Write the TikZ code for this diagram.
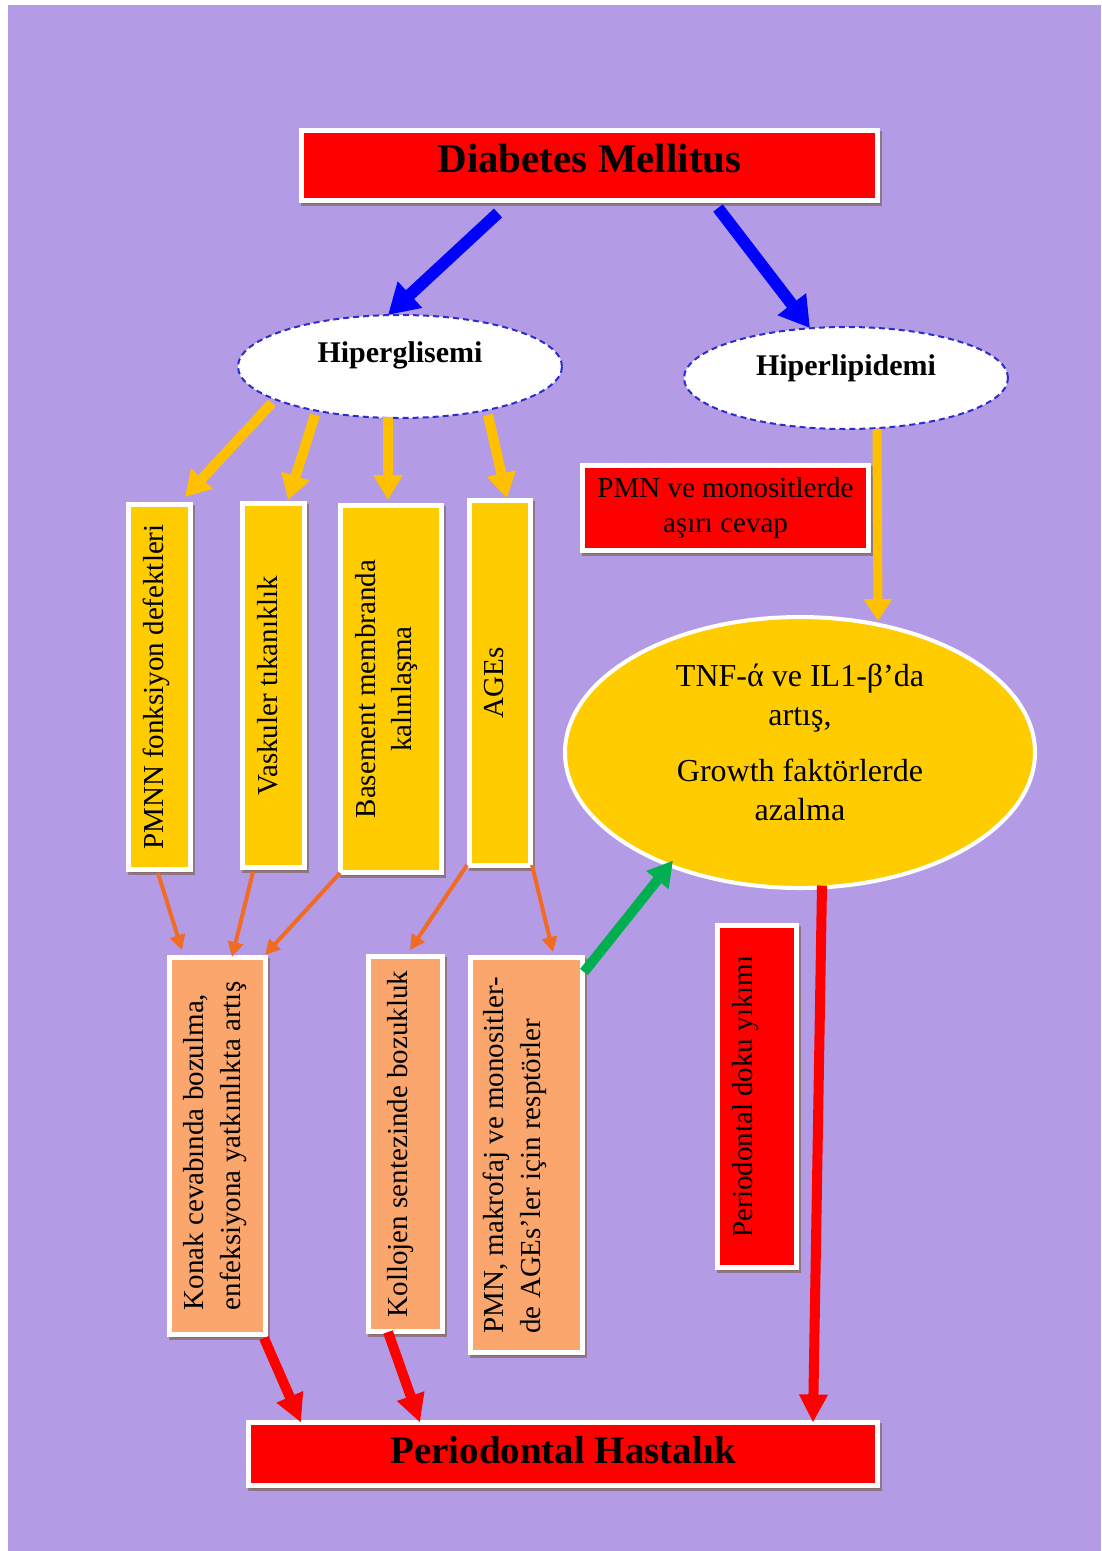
\documentclass[tikz,border=0pt]{standalone}
\usepackage{fontspec}
\setmainfont{Liberation Serif}
\usetikzlibrary{arrows.meta,shapes.geometric,shadows}
\definecolor{bgc}{RGB}{180,155,230}
\definecolor{redc}{RGB}{255,0,0}
\definecolor{yelc}{RGB}{255,204,0}
\definecolor{yarr}{RGB}{255,192,0}
\definecolor{orc}{RGB}{250,166,108}
\definecolor{oarr}{RGB}{242,107,34}
\definecolor{dashc}{RGB}{45,45,205}
\definecolor{greenc}{RGB}{0,176,80}
\definecolor{shadc}{RGB}{130,105,95}
\newcommand\mhtext[2]{\raisebox{#1}[0pt][0pt]{#2}}
\newcommand\mvtext[2]{\rotatebox{90}{\raisebox{#1}[0pt][0pt]{#2}}}
\begin{document}
\begin{tikzpicture}[x=1pt,y=-1pt,
  box/.style={rectangle,draw=white,line width=5pt,inner sep=0pt,outer sep=0pt,
    drop shadow={shadow xshift=2pt,shadow yshift=-3pt,opacity=.7,fill=shadc,draw=shadc,line width=5pt},
    font=\fontsize{29}{37}\selectfont},
  redbox/.style={box,fill=redc},
  ybox/.style={box,fill=yelc},
  obox/.style={box,fill=orc},
  dashell/.style={ellipse,draw=dashc,line width=2pt,dash pattern=on 6pt off 4pt,fill=white,
    inner sep=0pt,outer sep=0pt,font=\bfseries\fontsize{30}{36}\selectfont},
  bigell/.style={ellipse,draw=white,line width=4pt,fill=yelc,inner sep=0pt,outer sep=0pt,
    font=\fontsize{32}{39}\selectfont},
  bluearr/.style={draw=blue,line width=12pt,-{Triangle[width=34pt,length=30pt]}},
  yelarr/.style={draw=yarr,line width=10pt,-{Triangle[width=28pt,length=25pt]}},
  yelthin/.style={draw=yarr,line width=9pt,-{Triangle[width=27pt,length=22pt]}},
  orarr/.style={draw=oarr,line width=4pt,-{Triangle[width=15pt,length=15pt]}},
  redarr/.style={draw=redc,line width=10pt,-{Triangle[width=27pt,length=28pt]}},
  grarr/.style={draw=greenc,line width=10pt,-{Triangle[width=27pt,length=25pt]}}
]
\useasboundingbox (0,0) rectangle (1101,1551);
\fill[bgc] (8,5) rectangle (1101,1551);

% top and bottom
\node[redbox,minimum width=576pt,minimum height=70pt,font=\bfseries\fontsize{41}{48}\selectfont]
  (dm) at (589.5,165.5) {\mhtext{-6.5pt}{Diabetes Mellitus}};
\node[redbox,minimum width=629pt,minimum height=63pt,font=\bfseries\fontsize{39}{46}\selectfont]
  (ph) at (563,1454) {\mhtext{-9pt}{Periodontal Hastalık}};

% ellipses
\node[dashell,minimum width=324pt,minimum height=103pt] (hg) at (400,366.5) {\mhtext{4.5pt}{Hiperglisemi}};
\node[dashell,minimum width=324pt,minimum height=102pt] (hl) at (846,378) {\mhtext{3pt}{Hiperlipidemi}};

% yellow boxes
\node[ybox,minimum width=62pt,minimum height=365pt] (pmnn) at (159.5,687) {\mvtext{-3.5pt}{PMNN fonksiyon defektleri}};
\node[ybox,minimum width=62pt,minimum height=364pt] (vask) at (273.5,685.5) {\mvtext{-3.5pt}{Vaskuler tıkanıklık}};
\node[ybox,minimum width=101pt,minimum height=367pt,font=\fontsize{29}{36}\selectfont] (bm) at (391,689)
  {\mvtext{16pt}{\begin{tabular}[t]{@{}c@{}}Basement membranda\\kalınlaşma\end{tabular}}};
\node[ybox,minimum width=61pt,minimum height=365pt] (ages) at (500,683) {\mvtext{-3pt}{AGEs}};

% orange boxes
\node[obox,minimum width=96pt,minimum height=377pt] (konak) at (217.5,1146)
  {\mvtext{14.5pt}{\begin{tabular}[t]{@{}l@{}}Konak cevabında bozulma,\\enfeksiyona yatkınlıkta artış\end{tabular}}};
\node[obox,minimum width=74pt,minimum height=375pt] (koll) at (405.5,1144)
  {\mvtext{-1.5pt}{Kollojen sentezinde bozukluk}};
\node[obox,minimum width=112pt,minimum height=395pt] (pmnmak) at (526.5,1155)
  {\mvtext{23.5pt}{\begin{tabular}[t]{@{}l@{}}PMN, makrofaj ve monositler-\\de AGEs’ler için resptörler\end{tabular}}};

% right side
\node[redbox,minimum width=286pt,minimum height=85pt,font=\fontsize{29}{35}\selectfont] (pmnmono) at (725.5,508)
  {\mhtext{11pt}{\begin{tabular}[t]{@{}c@{}}PMN ve monositlerde\\aşırı cevap\end{tabular}}};
\node[bigell,minimum width=470pt,minimum height=271pt] (tnf) at (800,752.5)
  {\mhtext{66pt}{\begin{tabular}[t]{@{}c@{}}TNF-ά ve IL1-β’da\\artış,\\[17pt]Growth faktörlerde\\azalma\end{tabular}}};
\node[redbox,minimum width=79pt,minimum height=342pt] (pdy) at (757,1096.5)
  {\mvtext{5pt}{Periodontal doku yıkımı}};

% blue arrows
\draw[bluearr] ([shift={(-91.5,12.5)}]dm.south) -- ([xshift=-12pt]hg.north);
\draw[bluearr] ([shift={(128.5,7.5)}]dm.south) -- ([xshift=-36pt,yshift=-1pt]hl.north);

% yellow arrows
\draw[yelarr] ([shift={(-128,36.5)}]hg.center) -- ([shift={(25.5,-7.5)}]pmnn.north);
\draw[yelarr] ([shift={(-85,48.5)}]hg.center) -- ([shift={(14.5,-3.5)}]vask.north);
\draw[yelarr] ([shift={(-12,50.5)}]hg.center) -- ([shift={(-3,-5.5)}]bm.north);
\draw[yelarr] ([shift={(88,48.5)}]hg.center) -- ([shift={(7,-2.5)}]ages.north);
\draw[yelthin] ([xshift=31pt]hl.south) -- ([shift={(78,4)}]tnf.north);

% orange arrows
\draw[orarr] ([shift={(-1.5,3.5)}]pmnn.south) -- ([shift={(-35.5,-7.5)}]konak.north);
\draw[orarr] ([shift={(-20.5,4.5)}]vask.south) -- ([shift={(14.5,-0.5)}]konak.north);
\draw[orarr] ([shift={(-0.5,0.5)}]bm.south west) -- ([shift={(-0.5,-2.5)}]konak.north east);
\draw[orarr] ([shift={(-2.5,-0.5)}]ages.south west) -- ([shift={(4.5,-6.5)}]koll.north);
\draw[orarr] ([shift={(1.5,-0.5)}]ages.south east) -- ([shift={(26.5,-5.5)}]pmnmak.north);

% green arrow
\draw[grarr] ([shift={(1.5,14.5)}]pmnmak.north east) -- ([shift={(-127,108)}]tnf.center);

% red arrows
\draw[redarr] ([shift={(-1.5,3.5)}]konak.south east) -- ([xshift=-262pt]ph.north);
\draw[redarr] ([shift={(-17.5,0.5)}]koll.south) -- ([xshift=-143pt]ph.north);
\draw[redarr] ([shift={(22,133)}]tnf.center) -- ([xshift=250pt]ph.north);
\end{tikzpicture}
\end{document}
